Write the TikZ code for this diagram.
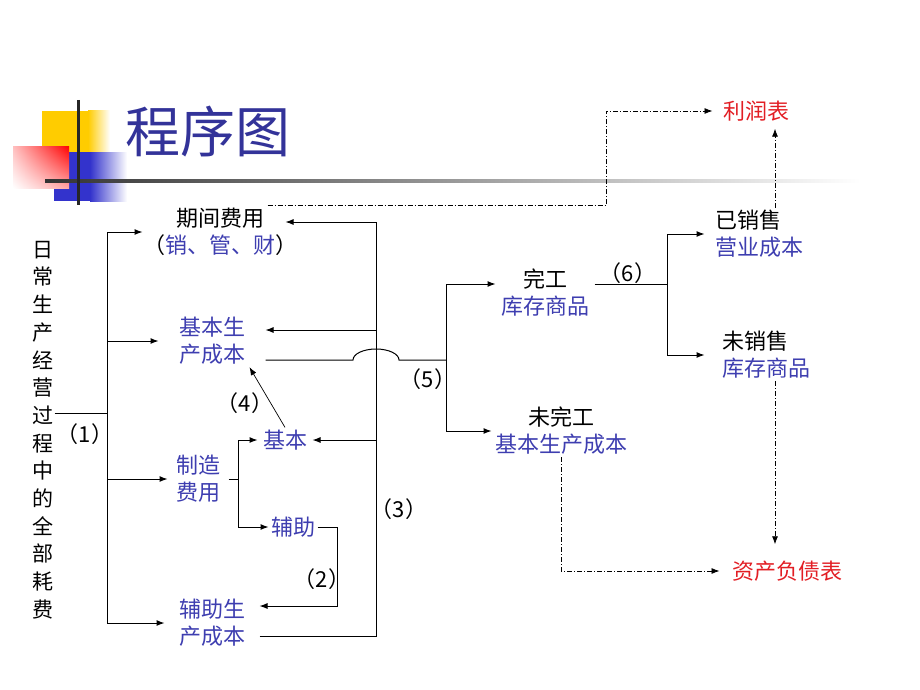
\documentclass[tikz,border=0pt]{standalone}
\usepackage{fontspec}
\usepackage{tikz}
\setmainfont{Noto Sans CJK SC}
\usetikzlibrary{arrows.meta}
\usetikzlibrary{calc}
\usetikzlibrary{shadings}
\tikzset{arr/.style = {-{Latex[length = 8pt, width = 6pt]}}}
\tikzset{dd/.style = {line width = 0.8pt, dash pattern = on 5pt off 2pt on 1pt off 2pt}}
\tikzset{blk/.style = {align = center, inner ysep = 2pt, font = \fontsize{22}{27}\selectfont}}
\definecolor{tblue}{RGB}{51, 51, 153}
\definecolor{cblue}{RGB}{62, 62, 176}
\definecolor{cred}{RGB}{226, 30, 36}
\definecolor{cyellow}{RGB}{255, 204, 0}
\definecolor{dblue}{RGB}{51, 51, 204}

\begin{document}
\begin{tikzpicture}[x=1pt, y=-1pt, line width=1pt]
      \useasboundingbox (0, 0) rectangle (920, 690);

      \fill [cyellow] (42, 111) rectangle (88, 152);
      \shade [left color=cyellow, right color=white] (88, 111) rectangle (110, 152);
      \fill [dblue] (54, 152) rectangle (90, 201);
      \shade [left color=dblue, right color=white] (90, 152) rectangle (127, 201);
      \shade [upper right=red, upper left=red!25, lower right=red!35, lower left=white] (13, 146) rectangle (69, 188);
      \shade [left color=black!80, middle color=black!55, right color=white] (45, 179.5) rectangle (860, 182.5);
      \draw [line width=3pt, black!85] (78, 100) -- (78, 205);
      \node [font=\fontsize{55}{60}\selectfont, text=tblue] (title) at (208, 132) {程序图};

      \node [align=center, text width=22pt, inner sep=0pt, font=\fontsize{21}{27.7}\selectfont] (lvtext) at (43, 430)
        {日\\常\\生\\产\\经\\营\\过\\程\\中\\的\\全\\部\\耗\\费};

      \node [blk, inner xsep=0pt] (qjfy) at (220, 232) {期间费用\\（{\color{cblue}销、管、财}）};
      \node [blk, text=cblue, inner xsep=20pt] (jbsc) at (212, 341) {基本生\\产成本};
      \node [blk, text=cblue, inner xsep=8pt] (zzfy) at (198, 479) {制造\\费用};
      \node [blk, text=cblue, inner xsep=14pt] (fzsc) at (212, 623) {辅助生\\产成本};
      \node [blk, text=cblue, inner xsep=5pt] (jb) at (285, 440) {基本};
      \node [blk, text=cblue, inner xsep=2pt] (fz) at (293, 527) {辅助};
      \node [blk, inner xsep=5pt] (wg) at (545, 293) {完工\\{\color{cblue}库存商品}};
      \node [blk, inner xsep=3pt] (wwg) at (561, 431) {未完工\\{\color{cblue}基本生产成本}};
      \node [blk, align=left, inner xsep=10pt] (ys) at (759, 234) {已销售\\{\color{cblue}营业成本}};
      \node [blk, align=left, inner xsep=17pt] (ws) at (766, 355) {未销售\\{\color{cblue}库存商品}};
      \node [blk, text=cred, inner xsep=10pt] (lr) at (756, 111) {利润表};
      \node [blk, text=cred, inner xsep=12pt] (zcfzb) at (787, 571) {资产负债表};

      \node [blk] (n1) at (85, 434) {（1）};
      \node [blk] (n2) at (322, 579) {（2）};
      \node [blk] (n3) at (399, 509) {（3）};
      \node [blk] (n4) at (245, 403) {（4）};
      \node [blk] (n5) at (428, 379) {（5）};
      \node [blk] (n6) at (628, 273) {（6）};

      \coordinate (lj) at (107, 413);
      \coordinate (rt) at (376, 222);
      \coordinate (mj) at ([xshift=10pt]zzfy.east);
      \coordinate (fr) at (337, 606);
      \coordinate (wj) at (446, 360);
      \coordinate (sj) at (667, 284);
      \coordinate (dk) at (606, 207);

      % (1)
      \draw (lvtext.east |- lj) -- (lj);
      \draw [arr] (lj) |- (qjfy.west);
      \draw [arr] (lj) |- (fzsc.west);
      \draw [arr] (lj |- jbsc.west) -- (jbsc.west);
      \draw [arr] (lj |- zzfy.west) -- (zzfy.west);

      % (3)
      \coordinate (fzout) at ([yshift=-13pt]fzsc.east);
      \coordinate (qjin) at ([xshift=-12pt, yshift=10pt]qjfy.east);
      \coordinate (jbin) at ([yshift=11pt]jbsc.east);
      \draw (fzout) -| (rt);
      \draw [arr] (rt) -- (qjin);
      \draw [arr] (rt |- jbin) -- (jbin);
      \draw [arr] (rt |- jb.east) -- (jb.east);

      \draw (zzfy.east) -- (mj);
      \draw [arr] (mj) |- (jb.west);
      \draw [arr] (mj) |- (fz.west);
      \draw [arr] (fz.east) -| (fr) -- (fr -| fzsc.east);
      \draw [arr, line width=0.7pt] (jb.north) -- ([xshift=-16pt]jbsc.south east);

      % (5)
      \coordinate (jbout) at ([yshift=-19pt]jbsc.east);
      \coordinate (jx) at (jbout -| rt);
      \draw (jbout) -- ([xshift=-23pt]jx) arc [start angle=180, end angle=0, x radius=23pt, y radius=11pt] -- (jbout -| wj);
      \draw [arr] (jbout -| wj) |- ([yshift=9pt]wg.west);
      \draw [arr] (jbout -| wj) |- (wwg.west);

      % (6)
      \coordinate (wgout) at ([yshift=9pt]wg.east);
      \draw (wgout) -- (wgout -| sj);
      \draw [arr] (wgout -| sj) |- (ys.west);
      \draw [arr] (wgout -| sj) |- (ws.west);

      \coordinate (qjtop) at ([xshift=-30pt]qjfy.north east);
      \coordinate (ysup) at ([xshift=16pt]ys.north);
      \coordinate (wsdn) at ([xshift=9pt]ws.south);
      \draw [dd, arr] (qjtop) -- (qjtop -| dk) |- (lr.west);
      \draw [dd, arr, shorten >=5pt] (ysup) -- (ysup |- lr.south);
      \draw [dd, arr, shorten >=14pt] (wsdn) -- (wsdn |- zcfzb.north);
      \draw [dd, arr] (wwg.south) |- (zcfzb.west);
\end{tikzpicture}
\end{document}
